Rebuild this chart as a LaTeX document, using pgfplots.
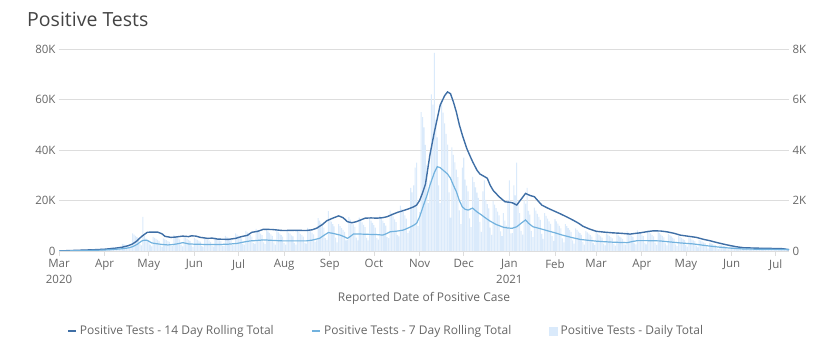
\documentclass[border=0pt]{standalone}
\usepackage{pgfplots}
\pgfplotsset{compat=1.18}
\usepackage{fontspec}
\setmainfont{Open Sans}
\definecolor{dark14}{HTML}{3F6FA6}
\definecolor{light7}{HTML}{72B2DE}
\definecolor{barblue}{HTML}{DAEAFB}
\definecolor{gridgray}{HTML}{DDDDDD}
\definecolor{labgray}{HTML}{666666}
\definecolor{titlegray}{HTML}{444444}
\begin{document}
\begin{tikzpicture}
\path[use as bounding box] (-59pt,-104pt) rectangle (769pt,251pt);
\node[anchor=base west, text=titlegray, font=\fontsize{19.5}{22}\selectfont, inner sep=0pt] at (-32pt,224pt) {Positive Tests};
% right axis: daily bars
\begin{axis}[
  at={(0pt,0pt)}, anchor=south west, scale only axis,
  width=730pt, height=202pt,
  xmin=0, xmax=496, ymin=0, ymax=8000,
  axis x line=none, axis y line*=right,
  y axis line style={draw=none},
  ytick={0,2000,4000,6000,8000}, yticklabels={0,2K,4K,6K,8K},
  ytick style={draw=none},
  yticklabel style={font=\fontsize{11.5}{12}\selectfont, text=labgray},
  ymajorgrids, grid style={color=gridgray, line width=0.7pt},
]
\addplot[ybar, bar width=0.7, fill=barblue, draw=none] coordinates {
(0,3)(1,10)(2,9)(3,8)(4,8)(5,7)(6,4)
(7,9)(8,28)(9,26)(10,24)(11,22)(12,20)(13,11)
(14,15)(15,48)(16,44)(17,41)(18,37)(19,34)(20,19)
(21,22)(22,69)(23,64)(24,59)(25,54)(26,49)(27,27)
(28,32)(29,99)(30,92)(31,85)(32,78)(33,71)(34,39)
(35,51)(36,160)(37,148)(38,137)(39,125)(40,114)(41,63)
(42,90)(43,280)(44,260)(45,240)(46,220)(47,200)(48,110)
(49,225)(50,700)(51,650)(52,600)(53,550)(54,500)(55,275)
(56,225)(57,1350)(58,600)(59,500)(60,450)(61,420)(62,250)
(63,180)(64,560)(65,520)(66,480)(67,440)(68,400)(69,220)
(70,160)(71,500)(72,464)(73,428)(74,393)(75,357)(76,196)
(77,206)(78,640)(79,594)(80,548)(81,503)(82,457)(83,251)
(84,180)(85,560)(86,520)(87,480)(88,440)(89,400)(90,220)
(91,167)(92,520)(93,482)(94,445)(95,408)(96,371)(97,204)
(98,167)(99,540)(100,470)(101,445)(102,420)(103,360)(104,204)
(105,174)(106,540)(107,502)(108,463)(109,425)(110,386)(111,212)
(112,193)(113,600)(114,557)(115,515)(116,472)(117,429)(118,236)
(119,225)(120,700)(121,650)(122,600)(123,550)(124,500)(125,275)
(126,257)(127,800)(128,742)(129,685)(130,628)(131,571)(132,314)
(133,283)(134,880)(135,817)(136,754)(137,691)(138,629)(139,346)
(140,270)(141,840)(142,780)(143,720)(144,660)(145,600)(146,330)
(147,257)(148,800)(149,742)(150,685)(151,628)(152,571)(153,314)
(154,257)(155,820)(156,730)(157,690)(158,620)(159,580)(160,310)
(161,257)(162,790)(163,750)(164,680)(165,630)(166,565)(167,320)
(168,296)(169,920)(170,854)(171,788)(172,723)(173,657)(174,361)
(175,418)(176,1300)(177,1207)(178,1114)(179,1021)(180,929)(181,511)
(182,437)(183,1580)(184,1262)(185,1165)(186,1068)(187,971)(188,534)
(189,341)(190,1060)(191,984)(192,908)(193,833)(194,757)(195,416)
(196,431)(197,1340)(198,1244)(199,1148)(200,1053)(201,957)(202,526)
(203,424)(204,1320)(205,1226)(206,1131)(207,1037)(208,943)(209,519)
(210,418)(211,1300)(212,1207)(213,1114)(214,1021)(215,929)(216,511)
(217,450)(218,1400)(219,1300)(220,1200)(221,1100)(222,1000)(223,550)
(224,514)(225,1600)(226,1486)(227,1371)(228,1257)(229,1143)(230,629)
(231,579)(232,1800)(233,1672)(234,1543)(235,1415)(236,1286)(237,707)
(238,804)(239,2500)(240,2322)(241,2600)(242,3300)(243,3500)(244,982)
(245,1543)(246,5500)(247,5300)(248,4900)(249,4200)(250,3400)(251,1900)
(252,2800)(253,6200)(254,5800)(255,7850)(256,5200)(257,4500)(258,2600)
(259,1896)(260,5900)(261,5478)(262,5057)(263,4635)(264,4214)(265,2318)
(266,1318)(267,4100)(268,3807)(269,3514)(270,3221)(271,2929)(272,1611)
(273,1061)(274,3300)(275,3700)(276,2829)(277,2593)(278,2357)(279,1296)
(280,945)(281,2940)(282,2730)(283,2520)(284,2310)(285,2100)(286,1155)
(287,759)(288,2360)(289,2800)(290,2023)(291,1854)(292,1686)(293,927)
(294,636)(295,1980)(296,1838)(297,1697)(298,1556)(299,1414)(300,778)
(301,585)(302,1500)(303,1200)(304,1000)(305,2000)(306,2800)(307,700)
(308,707)(309,2600)(310,2200)(311,3500)(312,1900)(313,1500)(314,800)
(315,649)(316,2020)(317,1876)(318,2500)(319,1587)(320,1443)(321,794)
(322,553)(323,1720)(324,1597)(325,1474)(326,1351)(327,1229)(328,676)
(329,482)(330,1500)(331,1393)(332,1286)(333,1178)(334,1071)(335,589)
(336,405)(337,1260)(338,1170)(339,1080)(340,990)(341,900)(342,495)
(343,341)(344,1060)(345,984)(346,908)(347,833)(348,757)(349,416)
(350,289)(351,900)(352,836)(353,771)(354,707)(355,643)(356,354)
(357,257)(358,800)(359,742)(360,685)(361,628)(362,571)(363,314)
(364,238)(365,740)(366,687)(367,634)(368,581)(369,529)(370,291)
(371,225)(372,700)(373,650)(374,600)(375,550)(376,500)(377,275)
(378,215)(379,670)(380,622)(381,574)(382,526)(383,479)(384,263)
(385,251)(386,780)(387,724)(388,668)(389,613)(390,557)(391,306)
(392,264)(393,820)(394,761)(395,703)(396,644)(397,586)(398,322)
(399,260)(400,810)(401,752)(402,694)(403,636)(404,579)(405,318)
(406,244)(407,760)(408,705)(409,651)(410,597)(411,543)(412,298)
(413,219)(414,680)(415,631)(416,583)(417,534)(418,486)(419,267)
(420,193)(421,600)(422,557)(423,515)(424,472)(425,429)(426,236)
(427,174)(428,540)(429,502)(430,463)(431,425)(432,386)(433,212)
(434,141)(435,440)(436,408)(437,377)(438,346)(439,314)(440,173)
(441,103)(442,320)(443,297)(444,274)(445,251)(446,229)(447,126)
(448,77)(449,240)(450,223)(451,206)(452,188)(453,171)(454,94)
(455,61)(456,190)(457,176)(458,163)(459,149)(460,136)(461,75)
(462,50)(463,156)(464,145)(465,134)(466,122)(467,111)(468,61)
(469,46)(470,144)(471,134)(472,123)(473,113)(474,103)(475,57)
(476,42)(477,132)(478,122)(479,113)(480,104)(481,94)(482,52)
(483,40)(484,124)(485,115)(486,106)(487,98)(488,89)(489,49)
(490,39)(491,120)(492,111)(493,103)(494,94)(495,86)
};
\end{axis}
% left axis: rolling totals
\begin{axis}[
  at={(0pt,0pt)}, anchor=south west, scale only axis,
  width=730pt, height=202pt,
  xmin=0, xmax=496, ymin=0, ymax=80,
  axis x line*=bottom, axis y line*=left,
  x axis line style={draw=none, -}, y axis line style={draw=none, -},
  xtick={0,31,61,92,122,153,184,214,245,275,306,337,365,396,426,457,487},
  xticklabels={{Mar\\2020},Apr,May,Jun,Jul,Aug,Sep,Oct,Nov,Dec,{Jan\\2021},Feb,Mar,Apr,May,Jun,Jul},
  xticklabel style={align=center, font=\fontsize{11.5}{15.5}\selectfont, text=labgray},
  xtick style={draw=gridgray, line width=0.7pt},
  xtick align=outside, major tick length=5pt,
  ytick={0,20,40,60,80}, yticklabels={0,20K,40K,60K,80K},
  ytick style={draw=none},
  yticklabel style={font=\fontsize{11.5}{12}\selectfont, text=labgray},
  xlabel={Reported Date of Positive Case},
  xlabel style={font=\fontsize{12}{13}\selectfont, text=labgray, yshift=-2pt},
  legend columns=3,
  legend style={draw=none, fill=none, at={(0.007,-0.396)}, anchor=west,
    font=\fontsize{12}{13}\selectfont, text=labgray,
    /tikz/every odd column/.append style={column sep=1pt},
    /tikz/every even column/.append style={column sep=36pt}},
  legend image code/.code={\draw[#1, line width=1.5pt] (0pt,0pt) -- (8pt,0pt);},
]
\addplot[dark14, line width=1.4pt] coordinates {
(0,0)(4,0.1)(14,0.3)(24,0.5)(31,0.7)(38,1.1)(43,1.5)(47,2.1)(50,2.8)(53,4.0)(56,5.7)(60,7.4)(63,7.5)(67,7.5)(70,6.8)(72,5.8)(76,5.4)(79,5.5)(84,5.9)(86,5.8)(88,5.7)(90,6.0)(93,5.9)(96,5.4)(101,5.0)(104,5.1)(108,4.7)(115,4.6)(120,5.0)(124,5.7)(128,6.2)(131,7.4)(135,7.8)(139,8.6)(145,8.5)(152,8.1)(160,8.2)(168,8.1)(172,8.4)(175,9.0)(179,10.5)(182,12.0)(186,13.0)(190,13.9)(193,13.2)(196,11.6)(199,11.2)(202,11.6)(205,12.3)(208,13.0)(212,13.1)(216,13.0)(220,13.2)(223,13.6)(227,14.6)(230,15.3)(234,16.0)(238,16.8)(241,17.5)(243,18.2)(245,20.0)(247,23.0)(249,26.5)(252,38)(255,47)(259,57.8)(262,61.5)(264,63)(266,62.3)(268,59)(270,55)(272,50)(274,46)(277,40.7)(279,38)(281,35.4)(284,32)(286,30.5)(289,29.5)(291,28.8)(293,26)(295,24)(299,21.5)(303,19.5)(306,19.3)(308,19.1)(311,18.2)(314,20.5)(317,22.8)(320,22.0)(323,21.5)(326,19.5)(328,18.2)(332,17.0)(335,16.2)(340,14.9)(345,13.5)(349,12.3)(353,11.0)(356,9.8)(360,8.8)(365,7.8)(370,7.5)(376,7.2)(382,7.0)(388,6.7)(392,7.0)(395,7.2)(400,7.7)(404,8.0)(409,7.9)(413,7.6)(418,7.0)(422,6.3)(428,5.8)(433,5.4)(438,4.6)(442,4.1)(448,3.2)(454,2.4)(460,1.7)(465,1.3)(470,1.2)(476,1.1)(485,1.0)(492,0.9)(496,0.5)
};
\addlegendentry{Positive Tests - 14 Day Rolling Total}
\addplot[light7, line width=1.2pt] coordinates {
(0,0)(7,0.05)(14,0.15)(24,0.28)(31,0.4)(38,0.65)(43,0.9)(47,1.2)(50,1.7)(53,2.6)(56,3.9)(58,4.3)(60,4.2)(63,3.2)(66,2.9)(70,2.6)(74,2.4)(78,2.6)(81,2.9)(84,3.3)(86,3.1)(88,2.8)(92,2.7)(99,2.6)(105,2.6)(110,2.6)(115,2.7)(121,3.0)(126,3.6)(130,4.0)(133,4.1)(139,4.4)(145,4.2)(152,4.0)(160,4.0)(168,4.0)(172,4.3)(177,5.0)(180,6.2)(183,7.3)(186,7.0)(191,6.3)(194,5.6)(196,5.0)(198,5.8)(200,6.7)(205,6.7)(210,6.6)(216,6.5)(220,6.3)(223,7.0)(225,7.6)(230,7.9)(234,8.3)(238,9.3)(241,10.2)(243,11.0)(245,13.5)(247,17)(250,22)(252,26)(255,31)(257,33.4)(259,33.0)(261,32)(264,30.5)(266,28.8)(268,26)(270,23.5)(272,20)(274,17.5)(276,16.5)(278,16.2)(281,17.0)(284,15.5)(287,14.3)(290,13.0)(293,11.8)(297,10.5)(302,9.4)(305,9.1)(308,9.0)(311,9.6)(314,11.0)(317,12.3)(319,11.0)(322,9.6)(326,9.0)(332,8.0)(337,7.2)(342,6.3)(348,5.4)(354,4.6)(360,4.2)(365,3.9)(370,3.7)(376,3.5)(381,3.4)(386,3.3)(390,3.8)(393,4.1)(400,4.1)(408,4.0)(415,3.6)(422,3.2)(431,2.8)(440,2.1)(449,1.5)(457,1.1)(465,0.8)(475,0.7)(485,0.65)(496,0.6)
};
\addlegendentry{Positive Tests - 7 Day Rolling Total}
\addlegendimage{legend image code/.code={\fill[barblue] (0pt,-4pt) rectangle (8pt,4pt);}}
\addlegendentry{Positive Tests - Daily Total}
\end{axis}
\end{tikzpicture}
\end{document}
